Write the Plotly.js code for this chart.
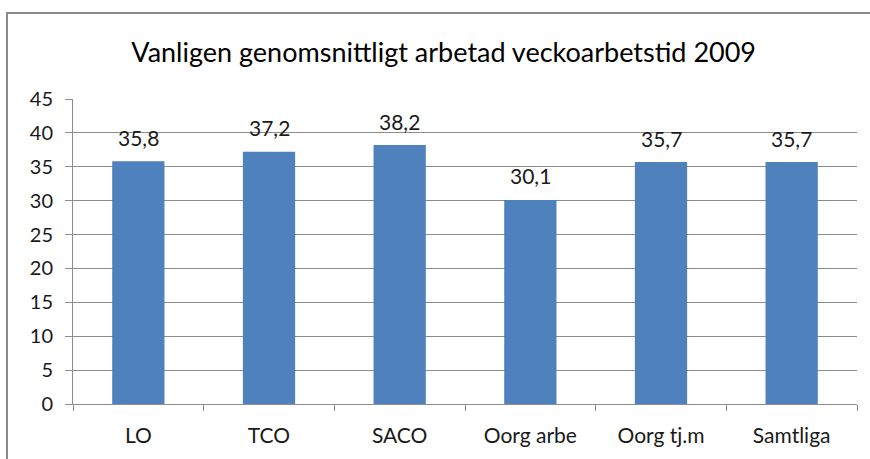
<!DOCTYPE html>
<html><head><meta charset="utf-8">
<script src="https://cdn.plot.ly/plotly-3.0.1.min.js"></script>
<style>
html,body{margin:0;padding:0;overflow:hidden;background:#fff;}
#chart{position:absolute;left:0;top:0;width:870px;height:459px;}
#frame{position:absolute;left:6px;top:12px;width:880px;height:470px;border-left:2px solid #8a8a8a;border-top:2px solid #8a8a8a;pointer-events:none;}
</style></head>
<body>
<div id="chart"></div>
<div id="frame"></div>
<script>
const categories = ["LO", "TCO", "SACO", "Oorg arbe", "Oorg tj.m", "Samtliga"];
const values = [35.8, 37.2, 38.2, 30.1, 35.7, 35.7];
const yTicks = [0, 5, 10, 15, 20, 25, 30, 35, 40, 45];
const titleText = "Vanligen genomsnittligt arbetad veckoarbetstid 2009";

const fontFam = "Lato, 'Open Sans', sans-serif";
const annotations = categories.map((c, i) => ({
  x: c, y: values[i], xref: 'x', yref: 'y',
  text: values[i].toFixed(1).replace('.', ','),
  showarrow: false, yanchor: 'middle', yshift: 24,
  font: {family: fontFam, size: 21, color: '#1a1a1a'}
}));

Plotly.newPlot('chart', [{
  type: 'bar', x: categories, y: values,
  marker: {color: '#4F81BD'}, width: 0.4, hoverinfo: 'none'
}], {
  width: 870, height: 459,
  margin: {l: 73, r: 13, t: 99, b: 55},
  paper_bgcolor: '#fff', plot_bgcolor: '#fff',
  title: {text: titleText, x: 0.51, xanchor: 'center', y: 0.885, yanchor: 'middle',
          font: {family: fontFam, size: 27, color: '#000'}},
  xaxis: {type: 'category', showgrid: false, showline: true, linecolor: '#8d8d8d', linewidth: 1,
          ticks: 'outside', tickson: 'boundaries', ticklen: 6, tickcolor: '#8d8d8d',
          tickfont: {family: fontFam, size: 21, color: '#1a1a1a'}, ticklabelstandoff: 13},
  yaxis: {range: [0, 45], tickvals: yTicks, showgrid: true, gridcolor: '#8d8d8d', gridwidth: 1,
          showline: true, linecolor: '#8d8d8d', linewidth: 1, zeroline: false,
          ticks: 'outside', ticklen: 7, tickcolor: '#8d8d8d',
          tickfont: {family: fontFam, size: 20, color: '#1a1a1a'}, ticklabelstandoff: 8},
  annotations: annotations,
  showlegend: false
}, {staticPlot: true});
</script>
</body></html>
